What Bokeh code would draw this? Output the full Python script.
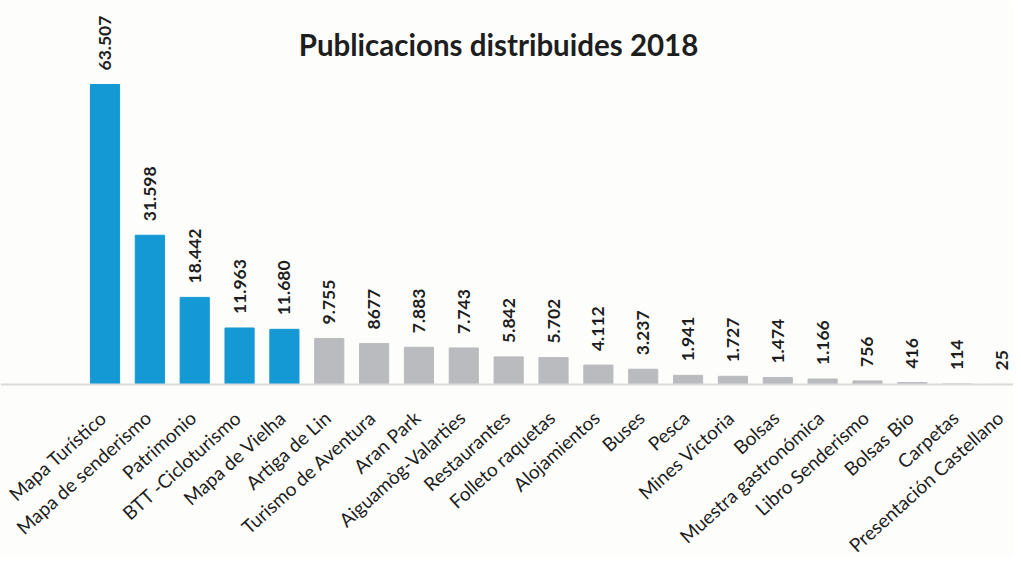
from bokeh.plotting import figure
from bokeh.models import ColumnDataSource, Label, Range1d, Span
from bokeh.embed import file_html
from bokeh.resources import INLINE

categories = ["Mapa Turístico", "Mapa de senderismo", "Patrimonio", "BTT -Cicloturismo",
              "Mapa de Vielha", "Artiga de Lin", "Turismo de Aventura", "Aran Park",
              "Aiguamòg-Valarties", "Restaurantes", "Folleto raquetas", "Alojamientos",
              "Buses", "Pesca", "Mines Victoria", "Bolsas", "Muestra gastronómica",
              "Libro Senderismo", "Bolsas Bio", "Carpetas", "Presentación Castellano"]
values = [63507, 31598, 18442, 11963, 11680, 9755, 8677, 7883, 7743, 5842, 5702,
          4112, 3237, 1941, 1727, 1474, 1166, 756, 416, 114, 25]
value_labels = ["63.507", "31.598", "18.442", "11.963", "11.680", "9.755", "8677",
                "7.883", "7.743", "5.842", "5.702", "4.112", "3.237", "1.941", "1.727",
                "1.474", "1.166", "756", "416", "114", "25"]
highlighted = 5
title_text = "Publicacions distribuides 2018"

BLUE = "#1499D5"
GRAY = "#BABBBE"
BG = "#FDFDFB"
INK = "#1E1E1E"

W, H = 1013, 557

xs = list(range(len(categories)))
colors = [BLUE if i < highlighted else GRAY for i in xs]
src = ColumnDataSource(dict(x=xs, top=values, color=colors))

# frame covers the whole canvas so that the rotated labels are not clipped
p = figure(width=W, height=H, output_backend="svg", toolbar_location=None,
           x_range=Range1d(-2.330, 20.256), y_range=Range1d(-36622, 81289),
           x_axis_location=None, y_axis_location=None,
           min_border_left=0, min_border_right=0, min_border_top=0, min_border_bottom=0)
p.background_fill_color = BG
p.border_fill_color = BG
p.outline_line_color = None
p.grid.visible = False

p.add_layout(Span(location=0, dimension="width", line_color="#DCDCDC", line_width=2))

p.vbar(x="x", top="top", width=0.65, bottom=0, color="color", source=src)

for i, (v, lab) in enumerate(zip(values, value_labels)):
    p.add_layout(Label(x=i, y=v, text=lab, angle=90, angle_units="deg", y_offset=14,
                       text_align="left", text_baseline="middle", text_font="Lato",
                       text_font_style="bold", text_font_size="17.5px", text_color=INK))

for i, c in enumerate(categories):
    p.add_layout(Label(x=i, y=0, text=c, angle=42, angle_units="deg",
                       x_offset=-2, y_offset=-30,
                       text_align="right", text_baseline="middle", text_font="Lato",
                       text_font_size="19px", text_color=INK))

p.add_layout(Label(x=498, y=H - 44, x_units="screen", y_units="screen", text=title_text,
                   text_align="center", text_baseline="middle", text_font="Lato",
                   text_font_style="bold", text_font_size="29.5px", text_color=INK))

open("out.html", "w").write(file_html(p, INLINE))
